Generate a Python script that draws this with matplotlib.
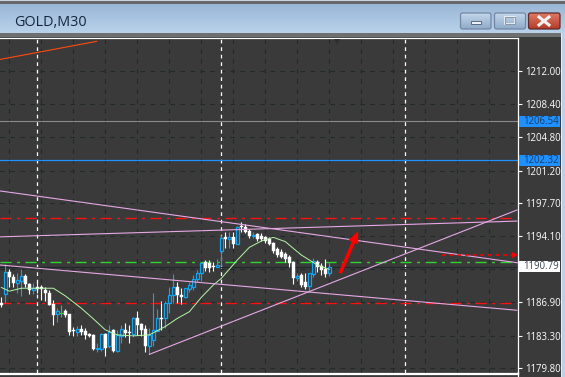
import numpy as np
import matplotlib
matplotlib.use("Agg")
import matplotlib.pyplot as plt
from matplotlib.patches import Rectangle, FancyBboxPatch
from matplotlib.colors import LinearSegmentedColormap

title = "GOLD,M30"
opens = [1186.89,1187.79,1190.25,1189.64,1188.98,1189.24,1189.78,1188.91,1188.26,1188.62,
         1188.52,1188.26,1187.97,1186.74,1185.62,1185.80,1185.98,1185.66,1183.92,1183.74,
         1184.03,1183.82,1183.49,1183.38,1181.86,1181.90,1183.49,1182.12,1183.92,1181.68,
         1183.27,1183.92,1183.74,1183.49,1185.19,1184.57,1184.03,1182.12,1182.84,1183.85,
         1185.26,1185.19,1186.82,1187.72,1188.53,1187.70,1187.45,1188.35,1188.53,1189.40,
         1190.05,1191.32,1191.21,1190.85,1190.77,1192.44,1194.03,1193.81,1193.96,1193.23,
         1195.18,1195.11,1194.68,1194.06,1194.32,1194.10,1193.96,1193.74,1193.38,1192.73,
         1192.40,1192.15,1191.86,1191.32,1189.51,1189.87,1189.15,1188.68,1189.98,1191.32,
         1190.88,1190.49,1190.05]
highs = [1187.54,1191.08,1190.50,1190.00,1190.07,1190.50,1190.00,1189.06,1188.98,1189.17,
         1188.80,1188.55,1188.26,1187.18,1186.27,1186.64,1186.17,1185.66,1184.21,1184.36,
         1184.47,1184.10,1183.63,1183.49,1182.55,1183.56,1183.63,1184.47,1184.00,1183.92,
         1184.47,1184.72,1184.47,1185.37,1186.02,1184.65,1184.47,1184.10,1187.97,1186.17,
         1187.00,1187.00,1188.62,1190.00,1189.15,1188.42,1188.50,1189.15,1189.87,1190.41,
         1191.32,1191.50,1191.50,1191.32,1191.57,1194.21,1194.57,1194.57,1194.57,1195.18,
         1195.65,1195.40,1194.82,1194.57,1194.46,1194.39,1194.10,1193.96,1193.49,1192.94,
         1192.65,1192.40,1192.04,1191.43,1190.12,1190.05,1190.05,1190.12,1191.68,1191.50,
         1191.14,1191.57,1191.32]
lows = [1186.38,1186.82,1188.62,1188.55,1187.97,1187.65,1188.55,1187.83,1187.83,1187.90,
        1187.11,1187.00,1186.64,1184.47,1184.83,1185.37,1185.37,1183.38,1183.27,1183.27,
        1183.38,1182.91,1183.13,1181.75,1181.57,1181.65,1181.10,1181.94,1181.57,1181.57,
        1182.48,1183.13,1182.55,1183.20,1183.38,1183.27,1181.57,1181.32,1182.12,1183.85,
        1183.92,1184.10,1185.73,1186.82,1186.87,1186.69,1187.34,1188.06,1188.24,1189.15,
        1189.26,1190.34,1190.23,1190.34,1190.70,1190.85,1192.76,1192.76,1192.76,1193.23,
        1194.57,1194.46,1193.85,1193.85,1193.59,1193.59,1193.30,1193.09,1192.22,1191.86,
        1191.68,1191.32,1190.70,1188.89,1189.26,1188.53,1188.32,1188.06,1189.69,1190.23,
        1189.87,1189.69,1189.76]
closes = [1186.67,1190.25,1189.64,1188.98,1189.35,1189.78,1188.91,1188.26,1188.48,1188.33,
          1188.33,1187.97,1186.64,1185.55,1185.98,1185.80,1185.55,1183.71,1183.82,1184.03,
          1183.67,1183.38,1183.27,1181.86,1181.94,1183.49,1182.01,1183.74,1181.68,1183.38,
          1184.00,1183.63,1183.56,1185.19,1184.47,1183.92,1182.12,1183.38,1183.92,1185.19,
          1185.15,1186.82,1187.72,1188.55,1187.70,1187.52,1188.42,1188.79,1189.40,1190.05,
          1191.21,1190.59,1190.59,1190.70,1190.96,1193.88,1193.81,1193.96,1193.23,1195.11,
          1195.04,1194.57,1194.10,1194.17,1193.74,1193.74,1193.59,1193.23,1192.51,1192.04,
          1191.86,1191.57,1191.21,1189.51,1189.76,1188.79,1188.53,1190.05,1191.43,1190.77,
          1190.41,1189.98,1190.77]

ma_bars = [0,2,5,13,16,20,23,26,29,33,37,41,44,47,50,53,55,59,62,65,68,71,73,75,77,79,82]
ma_vals = [1188.52,1188.12,1188.44,1188.44,1187.61,1186.27,1185.12,1183.92,1183.38,1183.27,
           1183.38,1184.29,1185.17,1185.89,1187.45,1188.79,1189.51,1191.50,1192.87,1193.56,
           1193.96,1193.49,1192.76,1192.04,1191.50,1190.95,1190.49]

tick_prices = [1212.00,1208.40,1204.80,1201.20,1197.70,1194.10,1190.50,1186.90,1183.30,1179.80]
tick_labels = ["1212.00","1208.40","1204.80","1201.20","1197.70","1194.10","","1186.90","1183.30","1179.80"]
grid_bars = list(range(2,128,8))
period_bars = [9,55,101]

level_grey = 1206.54
level_blue = 1202.32
level_bid = 1190.79
level_red_top = 1196.02
level_red_low = 1186.83
level_green = 1191.25

trend_x = [[-0.33,128.9],[-0.33,128.9],[-0.33,128.9],[37,128.9]]
trend_y = [[1198.99,1191.21],[1194.01,1195.72],[1190.96,1186.05],[1181.27,1196.92]]
orange_x = [-0.33,23.8]
orange_y = [1213.25,1215.21]
arrow_x = [84.7,89.2]
arrow_y = [1190.06,1194.65]
dash_arrow_x = [110.2,128.4]
dash_arrow_y = [1192.01,1192.01]

BG="#3a3a3a"; BLUE="#10a4f2"; WHITE="#ffffff"; GRID="#22282c"; PINK="#e6a8e6"
plt.rcParams['font.family']=['Open Sans','DejaVu Sans']

W,H=565,377
fig=plt.figure(figsize=(W/100,H/100),dpi=100)
bg=fig.add_axes([0,0,1,1]); bg.set_xlim(0,W); bg.set_ylim(H,0); bg.axis('off')

def grad(a,top,bot,box,clip=None,z=1):
    cm=LinearSegmentedColormap.from_list('g',[top,bot])
    im=a.imshow(np.linspace(0,1,64).reshape(-1,1),cmap=cm,aspect='auto',
                extent=[box[0],box[1],box[3],box[2]],zorder=z)
    if clip is not None: im.set_clip_path(clip)
    return im

grad(bg,"#98b5d4","#bad3ec",(0,W,3,33))
bg.set_xlim(0,W); bg.set_ylim(H,0)
bg.add_patch(Rectangle((0,0),W,1,fc="#c8d4e0",ec='none',zorder=2))
bg.add_patch(Rectangle((0,1),W,2.5,fc="#686868",ec='none',zorder=2))
bg.add_patch(Rectangle((0,33),561,4,fc="#6f6f6f",ec='none',zorder=2))
bg.add_patch(Rectangle((0,36.5),561,H,fc=BG,ec='none',zorder=2))
bg.add_patch(Rectangle((561,33),W-561,H,fc="#b9d1ea",ec='none',zorder=2))
bg.add_patch(Rectangle((561,33),1,H,fc="#e8eef5",ec='none',zorder=2))
bg.plot([0,517.5],[373.5,373.5],color='white',lw=0.9,zorder=3)
bg.plot([517.5,517.5],[372,H],color='white',lw=0.9,zorder=3)
bg.text(14,23,title,fontsize=10.4,color="#15263c",va='center',ha='left',zorder=4)

def button(x0,x1,top,bot,edge):
    r=FancyBboxPatch((x0,13),x1-x0,16,boxstyle="round,pad=0,rounding_size=2",fc='none',ec=edge,lw=0.9,zorder=5)
    bg.add_patch(r)
    grad(bg,top,bot,(x0,x1,13,29),clip=r,z=4)
button(460.5,491,"#c3d6ea","#8fabc9","#7488a5")
button(494.5,525.5,"#c3d6ea","#8fabc9","#7488a5")
button(528.5,560,"#df7a66","#b43b28","#5e2a2a")
bg.set_xlim(0,W); bg.set_ylim(H,0)
bg.add_patch(Rectangle((470.5,20.5),10,3.5,fc="#eef2f6",ec="#4a5a70",lw=0.6,zorder=6))
bg.add_patch(Rectangle((505,17),10,7,fc="none",ec="#eef2f6",lw=1.2,zorder=6))
bg.add_patch(Rectangle((505,17),10,7,fc="none",ec="#4a5a70",lw=0.4,zorder=6))
bg.plot([539,549],[17,25],color="#f2f2f2",lw=2.2,zorder=6)
bg.plot([539,549],[25,17],color="#f2f2f2",lw=2.2,zorder=6)

L,R,T,B=0,517.5,37.5,372.5
ax=fig.add_axes([L/W,1-B/H,(R-L)/W,(B-T)/H]); ax.patch.set_alpha(0)
ax.set_xlim(-0.333,129.04); ax.set_ylim(1179.30,1215.63)
ax.spines['left'].set_visible(False)
for s in ['top','right','bottom']:
    ax.spines[s].set_color('white'); ax.spines[s].set_linewidth(0.9)
ax.set_xticks([])
ax.yaxis.tick_right()
ax.set_yticks(tick_prices); ax.set_yticklabels(tick_labels)
ax.tick_params(axis='y',length=3,width=0.8,color='white',labelcolor='white',labelsize=6.9,pad=2.5)

for b in grid_bars: ax.axvline(b,color=GRID,lw=0.8,ls=(0,(4,5)),zorder=1)
for p in tick_prices: ax.axhline(p,color=GRID,lw=0.8,ls=(0,(4,5)),zorder=1)
for b in period_bars: ax.axvline(b,color='white',lw=0.9,ls=(0,(3,3)),zorder=1.5)

ax.axhline(level_grey,color="#8a8a8a",lw=0.8,zorder=2)
ax.axhline(level_blue,color="#1e90ff",lw=0.9,zorder=2)
ax.axhline(level_bid,color="#20262a",lw=0.8,zorder=2)
ax.axhline(level_red_top,color="#ff1010",lw=1,ls=(0,(8,4,2,4)),zorder=2)
ax.axhline(level_red_low,color="#ff1010",lw=1,ls=(0,(8,4,2,4)),zorder=2)
ax.axhline(level_green,color="#2ed62e",lw=1,ls=(0,(8,4,2,4)),zorder=2)

idx=np.arange(len(opens))
for i,o,h,l,c in zip(idx,opens,highs,lows,closes):
    if c==o: col="#33cc33"
    elif c>o: col=BLUE
    else: col=WHITE
    ax.vlines(i,l,h,color=col,lw=0.8,zorder=3)
    top,bot=max(o,c),min(o,c)
    if c>o:
        ax.bar(i,top-bot,bottom=bot,width=0.62,facecolor=BG,edgecolor=col,linewidth=0.9,zorder=3.2)
    elif c<o:
        ax.bar(i,top-bot,bottom=bot,width=0.75,facecolor=col,edgecolor=col,linewidth=0.3,zorder=3.2)
    else:
        ax.plot([i-.3,i+.3],[o,o],color=col,lw=0.8,zorder=3.2)

ax.plot(ma_bars,ma_vals,color="#b4f8a8",lw=0.7,zorder=4)
for xs,ys in zip(trend_x,trend_y):
    ax.plot(xs,ys,color=PINK,lw=0.8,zorder=4.5)
ax.plot(orange_x,orange_y,color="#ff4a10",lw=0.8,zorder=4.5)
ax.annotate("",xy=(arrow_x[1],arrow_y[1]),xytext=(arrow_x[0],arrow_y[0]),zorder=5,
            arrowprops=dict(arrowstyle="simple,head_length=1.1,head_width=0.95,tail_width=0.32",
                            mutation_scale=8,color="#ff0000",lw=0,shrinkA=0,shrinkB=0))
ax.plot(dash_arrow_x,dash_arrow_y,color="#ff0000",lw=1.1,ls=(0,(2.5,2.5)),zorder=5)
ax.plot([dash_arrow_x[1]],[dash_arrow_y[1]],marker='>',color="#ff0000",ms=5,mew=0,zorder=5,clip_on=False)
ax.plot([84],[0.987],marker='v',color="#2c2f31",ms=5,mew=0,transform=ax.get_xaxis_transform(),zorder=5)

yt=ax.get_yaxis_transform()
fx=lambda px:(px-L)/(R-L)
for p,fc,tc in [(level_grey,"#1e90ff","#1d3f66"),(level_blue,"#1e90ff","#1d3f66"),(level_bid,"#ffffff","#3a4550")]:
    ax.add_patch(Rectangle((fx(519),p-0.6),41/(R-L),1.2,transform=yt,fc=fc,ec='none',clip_on=False,zorder=6))
    ax.text(fx(523),p,f"{p:.2f}",transform=yt,color=tc,fontsize=6.9,va='center',ha='left',clip_on=False,zorder=7)

fig.savefig("out.png",dpi=100)
